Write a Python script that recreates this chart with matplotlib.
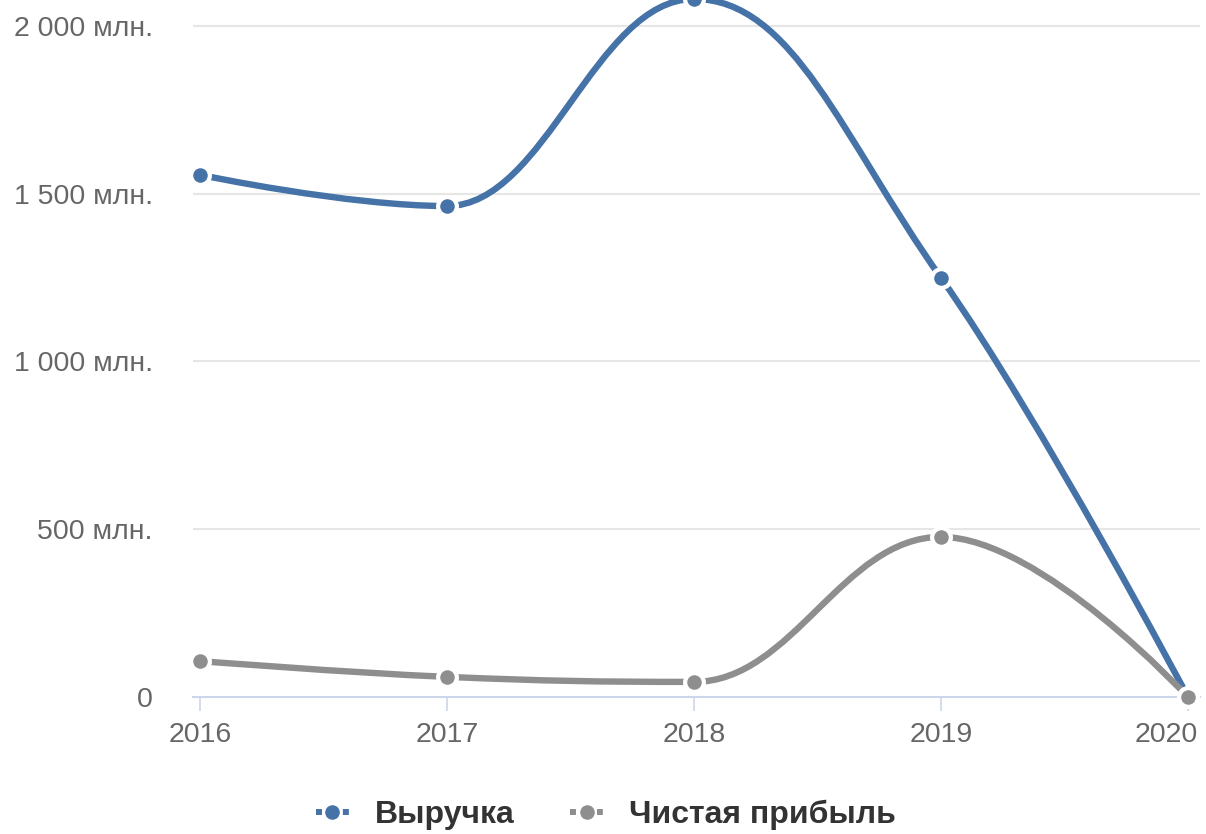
import numpy as np
import matplotlib
matplotlib.use("Agg")
import matplotlib.pyplot as plt
import matplotlib.transforms as mtransforms
from matplotlib.path import Path
from matplotlib.patches import PathPatch
from matplotlib.lines import Line2D

# data (values in млн. руб.)
years = [2016, 2017, 2018, 2019, 2020]
revenue = [1556, 1463, 2080, 1249, 0]
profit = [107, 60, 45, 477, 0]
y_ticks = [0, 500, 1000, 1500, 2000]
y_labels = ["0", "500 млн.", "1 000 млн.", "1 500 млн.", "2 000 млн."]

BLUE = "#4572a7"
GREY = "#8e8e8e"

plt.rcParams["font.family"] = ["Liberation Sans", "DejaVu Sans"]


def spline_path(ax, xs, ys):
    """Highcharts-like spline (bezier, smoothing 1.5) computed in pixel space."""
    pts = ax.transData.transform(np.column_stack([xs, ys]))
    n = len(pts)
    sm = 1.5
    den = sm + 1
    left = [None] * n
    right = [None] * n
    for i in range(1, n - 1):
        lx, ly = pts[i - 1]
        px, py = pts[i]
        nx, ny = pts[i + 1]
        lcx = (sm * px + lx) / den
        lcy = (sm * py + ly) / den
        rcx = (sm * px + nx) / den
        rcy = (sm * py + ny) / den
        corr = ((rcy - lcy) * (rcx - px)) / (rcx - lcx) + py - rcy
        lcy += corr
        rcy += corr
        if lcy > ly and lcy > py:
            lcy = max(ly, py)
            rcy = 2 * py - lcy
        elif lcy < ly and lcy < py:
            lcy = min(ly, py)
            rcy = 2 * py - lcy
        if rcy > ny and rcy > py:
            rcy = max(ny, py)
            lcy = 2 * py - rcy
        elif rcy < ny and rcy < py:
            rcy = min(ny, py)
            lcy = 2 * py - rcy
        left[i] = (lcx, lcy)
        right[i] = (rcx, rcy)
    verts = [tuple(pts[0])]
    codes = [Path.MOVETO]
    for i in range(1, n):
        c1 = right[i - 1] if right[i - 1] is not None else tuple(pts[i - 1])
        c2 = left[i] if left[i] is not None else tuple(pts[i])
        verts += [c1, c2, tuple(pts[i])]
        codes += [Path.CURVE4] * 3
    return Path(verts, codes)


fig = plt.figure(figsize=(12.06, 8.34), dpi=100)
ax = fig.add_axes([193 / 1206, 1 - 697 / 834, (1200 - 193) / 1206, 697 / 834])
ax.set_xlim(2016 - 7 / 247, 2020 + 12 / 247)
ax.set_ylim(0, 2077)

for s in ["top", "right", "left"]:
    ax.spines[s].set_visible(False)
ax.spines["bottom"].set_color("#ccd6eb")
ax.spines["bottom"].set_linewidth(1.5)

ax.set_yticks(y_ticks)
ax.set_yticklabels(y_labels)
ax.set_xticks(years)
ax.set_xticklabels([str(y) for y in years])
ax.tick_params(axis="y", length=0, pad=29, labelsize=20.5, labelcolor="#666666")
ax.tick_params(axis="x", length=10, width=1.2, color="#ccd6eb", pad=8,
               labelsize=20.5, labelcolor="#666666")
for t in y_ticks[1:]:
    ax.axhline(t, color="#e6e6e6", lw=1.5, zorder=0)

# keep the last year label inside the figure
last = ax.get_xticklabels()[-1]
last.set_horizontalalignment("right")
last.set_transform(last.get_transform() +
                   mtransforms.ScaledTranslation(10 / 100, 0, fig.dpi_scale_trans))

fig.canvas.draw()
for vals, col in [(revenue, BLUE), (profit, GREY)]:
    path = spline_path(ax, years, vals)
    patch = PathPatch(path, transform=None, facecolor="none", edgecolor=col,
                      lw=4.6, capstyle="round", joinstyle="round", zorder=3,
                      clip_on=False)
    ax.add_artist(patch)
    ax.plot(years, vals, "o", color=col, ms=13.5, mec="white", mew=3,
            zorder=4, clip_on=False)

handles = [
    Line2D([], [], color=BLUE, lw=4.3, dashes=(1, 3.5), marker="o", ms=12,
           mec="white", mew=1.5),
    Line2D([], [], color=GREY, lw=4.3, dashes=(1, 3.5), marker="o", ms=12,
           mec="white", mew=1.5),
]
leg = fig.legend(handles, ["Выручка", "Чистая прибыль"], loc="center",
                 bbox_to_anchor=(606 / 1206, 1 - 815 / 834), ncol=2,
                 frameon=False, handlelength=1.05, handletextpad=0.8,
                 columnspacing=1.75, prop={"size": 23, "weight": "bold"})
for t in leg.get_texts():
    t.set_color("#333333")

fig.savefig("out.png", dpi=100)
